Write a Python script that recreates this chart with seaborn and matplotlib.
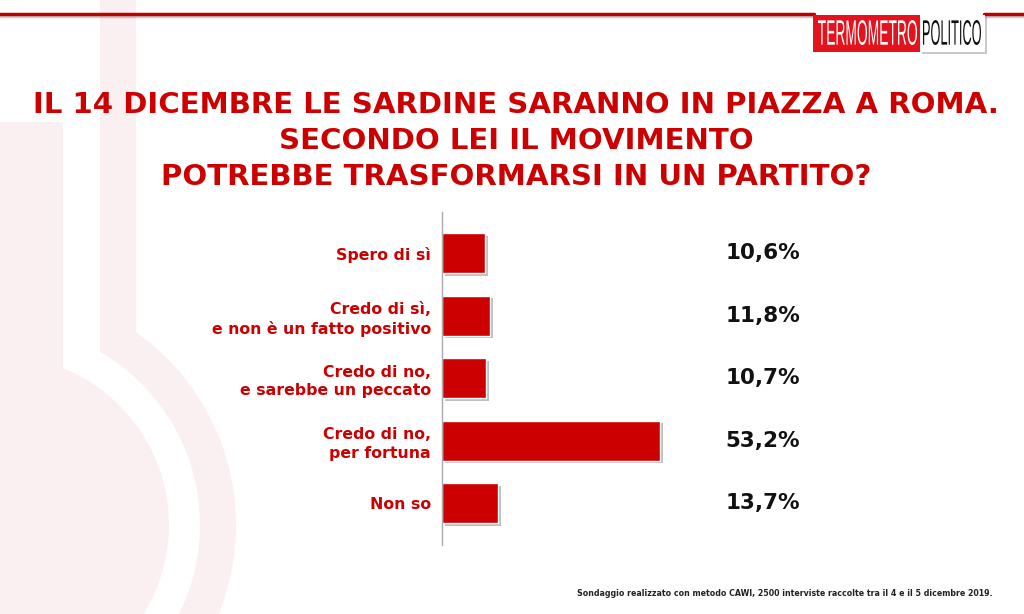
import matplotlib
matplotlib.use("Agg")
import matplotlib.pyplot as plt
import matplotlib.patches as mpatches
import matplotlib.patheffects as pe
from matplotlib.lines import Line2D
from matplotlib.textpath import TextPath
from matplotlib.font_manager import FontProperties
from matplotlib.transforms import blended_transform_factory, Affine2D
import seaborn as sns

# dati
risposte = ["Spero di sì",
            "Credo di sì,\ne non è un fatto positivo",
            "Credo di no,\ne sarebbe un peccato",
            "Credo di no,\nper fortuna",
            "Non so"]
valori = [10.6, 11.8, 10.7, 53.2, 13.7]
titolo = ("IL 14 DICEMBRE LE SARDINE SARANNO IN PIAZZA A ROMA.\n"
          "SECONDO LEI IL MOVIMENTO\n"
          "POTREBBE TRASFORMARSI IN UN PARTITO?")
nota = "Sondaggio realizzato con metodo CAWI, 2500 interviste raccolte tra il 4 e il 5 dicembre 2019."

ROSSO = "#cc0000"
ROSA = "#faf0f2"

sns.set_theme(style="white")
plt.rcParams['font.family'] = ['DejaVu Sans']

W, H = 1024, 614
fig = plt.figure(figsize=(W / 100, H / 100), dpi=100)
fig.patch.set_facecolor("white")

def fx(px):
    return px / W

def fy(py):
    return 1 - py / H

# sfondo termometro (coordinate in pixel)
bg = fig.add_axes([0, 0, 1, 1], zorder=-5)
bg.set_xlim(0, W)
bg.set_ylim(H, 0)
bg.axis("off")
bg.add_patch(mpatches.Rectangle((0, 122), 63, 500, color=ROSA, lw=0))
bg.add_patch(mpatches.Circle((0, 525), 169, color=ROSA, lw=0))
bg.add_patch(mpatches.Rectangle((100, 0), 36, 352, color=ROSA, lw=0))
bg.add_patch(mpatches.Wedge((0, 525), 236, -60, 90, width=36, color=ROSA, lw=0))

# linea in alto
ombra = [pe.SimpleLineShadow(offset=(0, -1.5), shadow_color="gray", alpha=0.4), pe.Normal()]
fig.add_artist(Line2D([0, fx(814)], [fy(14), fy(14)], color="#c00000", lw=2.5, path_effects=ombra))
fig.add_artist(Line2D([fx(984), 1], [fy(14), fy(14)], color="#c00000", lw=2.5, path_effects=ombra))

# logo
logo = fig.add_axes([0, 0, 1, 1], zorder=5)
logo.set_xlim(0, W)
logo.set_ylim(H, 0)
logo.axis("off")
logo.add_patch(mpatches.Rectangle((920, 15), 65, 37, facecolor="white", lw=0,
                                  path_effects=[pe.SimplePatchShadow(offset=(1.5, -1.5), alpha=0.3), pe.Normal()]))
logo.add_patch(mpatches.Rectangle((813, 15), 107, 37, color="#e4121d", lw=0))

def testo_stretto(ax, s, x0, x1, y_top, y_bot, colore):
    tp = TextPath((0, 0), s, size=20, prop=FontProperties(family="Liberation Sans"))
    bb = tp.get_extents()
    tr = (Affine2D().translate(-bb.x0, -bb.y0)
          .scale((x1 - x0) / bb.width, -(y_bot - y_top) / bb.height)
          .translate(x0, y_bot))
    ax.add_patch(mpatches.PathPatch(tr.transform_path(tp), color=colore, lw=0))

testo_stretto(logo, "TERMOMETRO", 818, 917, 20, 45, "white")
testo_stretto(logo, "POLITICO", 923, 981, 20, 45, "#111111")

# titolo
fig.text(fx(516), fy(141), titolo, color=ROSSO, fontsize=21.1, fontweight="bold",
         ha="center", va="center", linespacing=1.36)

# grafico a barre
ax = fig.add_axes([fx(442), fy(545), 4.1 * 60 / W, 333 / H])
sns.barplot(x=valori, y=risposte, orient="h", color=ROSSO, width=0.64, ax=ax,
            saturation=1)
for p in ax.patches:
    p.set_path_effects([pe.SimplePatchShadow(offset=(2, -2), shadow_rgbFace="gray", alpha=0.5), pe.Normal()])
ax.set_xlim(0, 60)
ax.set_ylim(4.67, -0.66)
ax.set_xticks([])
ax.set_xlabel("")
ax.set_ylabel("")
for s in ["top", "right", "bottom"]:
    ax.spines[s].set_visible(False)
ax.spines["left"].set_color("#aaaaaa")
ax.spines["left"].set_linewidth(1)
ax.tick_params(axis="y", length=0, pad=8)
for t in ax.get_yticklabels():
    t.set_color(ROSSO)
    t.set_fontsize(11.3)
    t.set_fontweight("bold")
    t.set_linespacing(1.3)
ax.patch.set_alpha(0)

tr = blended_transform_factory(fig.transFigure, ax.transData)
for i, v in enumerate(valori):
    ax.text(fx(800), i, f"{v:.1f}".replace(".", ",") + "%", transform=tr,
            ha="right", va="center", fontsize=15.5, fontweight="bold", color="#111111")

# nota
fig.text(fx(993), fy(593), nota, ha="right", va="center", fontsize=5.7,
         fontweight="bold", color="#222222")

fig.savefig("out.png", dpi=100)
